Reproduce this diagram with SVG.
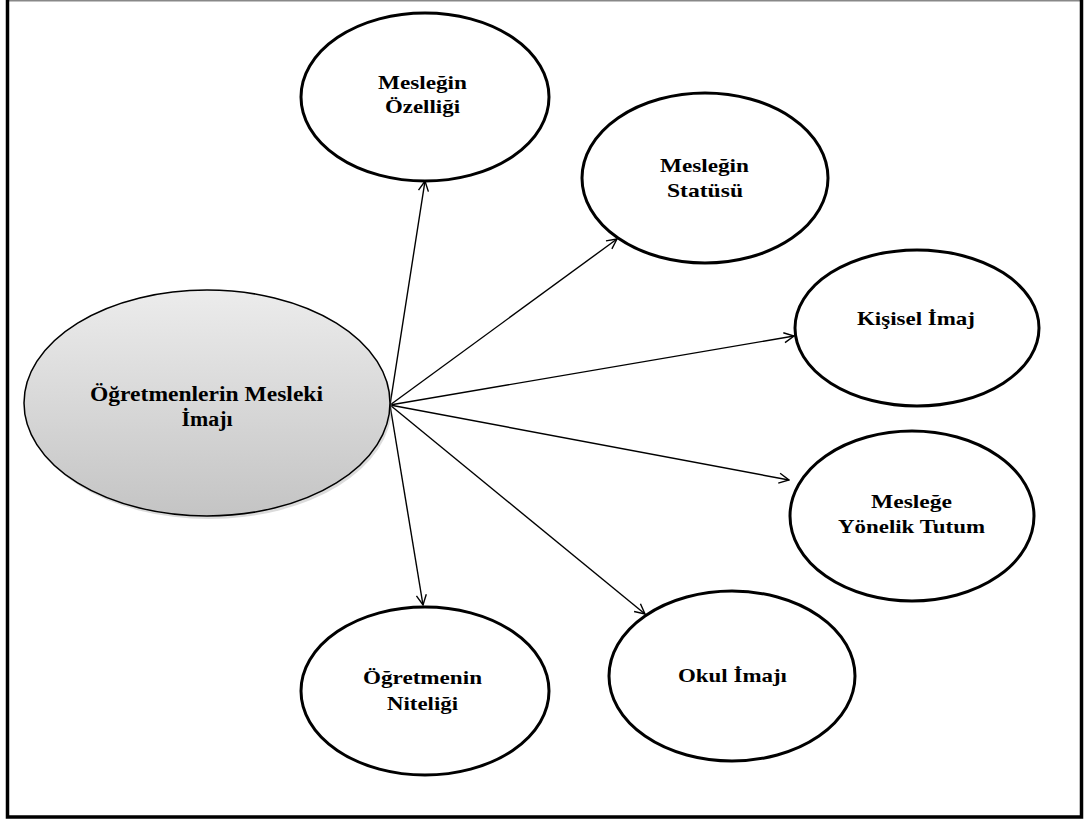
<svg xmlns="http://www.w3.org/2000/svg" width="1084" height="821" viewBox="0 0 1084 821">
<style>
.n{fill:#fff;stroke:#000;stroke-width:3}
.t{font-family:"Liberation Serif",serif;font-weight:bold;font-size:19px;text-anchor:middle;fill:#000}
.c{stroke:#000;stroke-width:1.4;fill:none;marker-end:url(#ah)}
.b{stroke:#000;stroke-width:3.5;fill:none}
</style>
<defs>
<marker id="ah" viewBox="0 0 12 12" refX="11" refY="6" markerWidth="12" markerHeight="12" markerUnits="userSpaceOnUse" orient="auto">
<path d="M1,1 L11,6 L1,11" fill="none" stroke="#000" stroke-width="1.4"/>
</marker>
<linearGradient id="g" x1="0" y1="0" x2="0" y2="1">
<stop offset="0" stop-color="#ececec"/>
<stop offset="1" stop-color="#c4c4c4"/>
</linearGradient>
</defs>
<rect width="1084" height="821" fill="#fff"/>
<line x1="7.5" y1="0.75" x2="1081.5" y2="0.75" stroke="#888" stroke-width="1.5"/>
<path class="b" d="M7.5,0 V817 H1081.5 V0"/>
<g id="connectors">
<line class="c" x1="390" y1="405" x2="425" y2="181"/>
<line class="c" x1="390" y1="405" x2="617" y2="239"/>
<line class="c" x1="390" y1="405" x2="794" y2="336"/>
<line class="c" x1="390" y1="405" x2="789" y2="480"/>
<line class="c" x1="390" y1="405" x2="645" y2="614"/>
<line class="c" x1="390" y1="405" x2="423" y2="605"/>
</g>
<g id="center">
<ellipse cx="209" cy="406" rx="183" ry="113" fill="#999" opacity="0.35"/>
<ellipse cx="207" cy="403" rx="183" ry="113" fill="url(#g)" stroke="#000" stroke-width="1.5"/>
<text class="t" style="font-size:20px" x="206.5" y="401" textLength="233" lengthAdjust="spacingAndGlyphs">Öğretmenlerin Mesleki</text>
<text class="t" style="font-size:20px" x="207" y="426" textLength="51" lengthAdjust="spacingAndGlyphs">İmajı</text>
</g>
<g id="ozellik">
<ellipse class="n" cx="425" cy="97" rx="124" ry="84"/>
<text class="t" x="422.5" y="89" textLength="89" lengthAdjust="spacingAndGlyphs">Mesleğin</text>
<text class="t" x="422.5" y="113" textLength="75" lengthAdjust="spacingAndGlyphs">Özelliği</text>
</g>
<g id="statu">
<ellipse class="n" cx="705" cy="178" rx="123" ry="85"/>
<text class="t" x="704.5" y="172" textLength="89" lengthAdjust="spacingAndGlyphs">Mesleğin</text>
<text class="t" x="705" y="197" textLength="76" lengthAdjust="spacingAndGlyphs">Statüsü</text>
</g>
<g id="kisisel">
<ellipse class="n" cx="917" cy="328" rx="122" ry="78"/>
<text class="t" x="916" y="325" textLength="118" lengthAdjust="spacingAndGlyphs">Kişisel İmaj</text>
</g>
<g id="tutum">
<ellipse class="n" cx="912" cy="516" rx="122" ry="85"/>
<text class="t" x="911.5" y="508" textLength="81" lengthAdjust="spacingAndGlyphs">Mesleğe</text>
<text class="t" x="911.5" y="533" textLength="147" lengthAdjust="spacingAndGlyphs">Yönelik Tutum</text>
</g>
<g id="okul">
<ellipse class="n" cx="732" cy="676" rx="123" ry="85"/>
<text class="t" x="732.5" y="682" textLength="109" lengthAdjust="spacingAndGlyphs">Okul İmajı</text>
</g>
<g id="nitelik">
<ellipse class="n" cx="425" cy="691" rx="124" ry="84"/>
<text class="t" x="422.5" y="684" textLength="119" lengthAdjust="spacingAndGlyphs">Öğretmenin</text>
<text class="t" x="422.5" y="710" textLength="71" lengthAdjust="spacingAndGlyphs">Niteliği</text>
</g>
</svg>
